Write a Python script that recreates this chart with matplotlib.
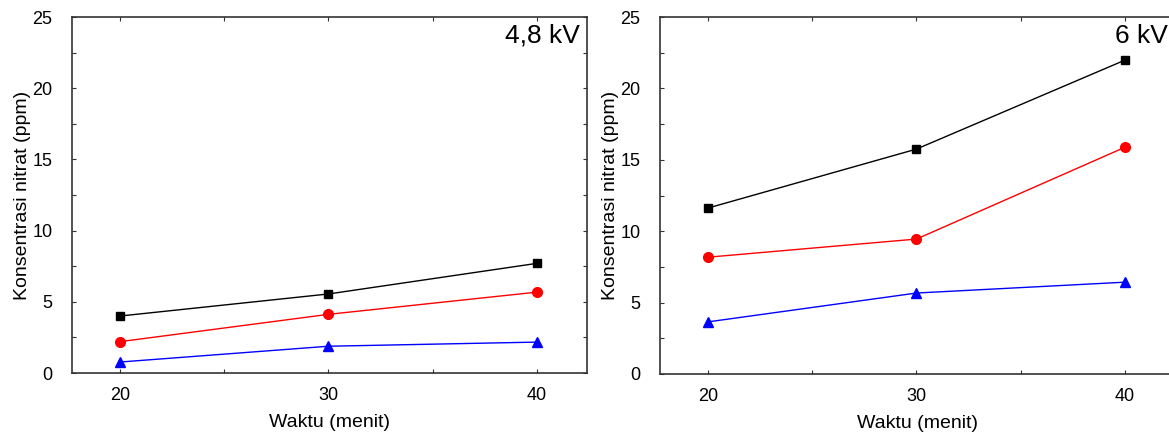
import matplotlib
matplotlib.use("Agg")
import matplotlib.pyplot as plt
from matplotlib.ticker import MultipleLocator

plt.rcParams["font.family"] = ["Liberation Sans", "DejaVu Sans"]

waktu = [20, 30, 40]

# 4,8 kV
kv48_black = [4.0, 5.55, 7.7]
kv48_red = [2.2, 4.12, 5.68]
kv48_blue = [0.77, 1.88, 2.17]

# 6 kV
kv6_black = [11.62, 15.75, 21.98]
kv6_red = [8.18, 9.45, 15.88]
kv6_blue = [3.65, 5.67, 6.43]

panels = [
    ("4,8 kV", kv48_black, kv48_red, kv48_blue),
    ("6 kV", kv6_black, kv6_red, kv6_blue),
]

W, H = 1169, 434
fig = plt.figure(figsize=(W / 100, H / 100), dpi=100)

# axes boxes in pixels: left, top, right, bottom
boxes = [(72, 17, 587, 373), (660, 17, 1175, 374)]

for (label, black, red, blue), (l, t, r, b) in zip(panels, boxes):
    ax = fig.add_axes([l / W, 1 - b / H, (r - l) / W, (b - t) / H])
    ax.plot(waktu, black, color="black", marker="s", markersize=6, lw=1)
    ax.plot(waktu, red, color="red", marker="o", markersize=7, lw=1)
    ax.plot(waktu, blue, color="blue", marker="^", markersize=7, lw=1)
    ax.set_xlim(17.7, 42.4)
    ax.set_ylim(0, 25)
    ax.xaxis.set_major_locator(MultipleLocator(10))
    ax.xaxis.set_minor_locator(MultipleLocator(5))
    ax.yaxis.set_major_locator(MultipleLocator(5))
    ax.yaxis.set_minor_locator(MultipleLocator(2.5))
    ax.tick_params(which="both", direction="in", length=3, width=0.8,
                   top=True, right=True, color="#333333", labelsize=13)
    ax.tick_params(axis="y", pad=14)
    ax.tick_params(axis="x", pad=10)
    for sp in ax.spines.values():
        sp.set_color("#333333")
        sp.set_linewidth(1.2)
    ax.set_xlabel("Waktu (menit)", fontsize=14, labelpad=7)
    ax.set_ylabel("Konsentrasi nitrat (ppm)", fontsize=14, labelpad=1)
    ax.text(1 - 7 / (r - l), 1 - 7 / (b - t), label, transform=ax.transAxes,
            ha="right", va="top", fontsize=19)

fig.savefig("out.png", dpi=100)
